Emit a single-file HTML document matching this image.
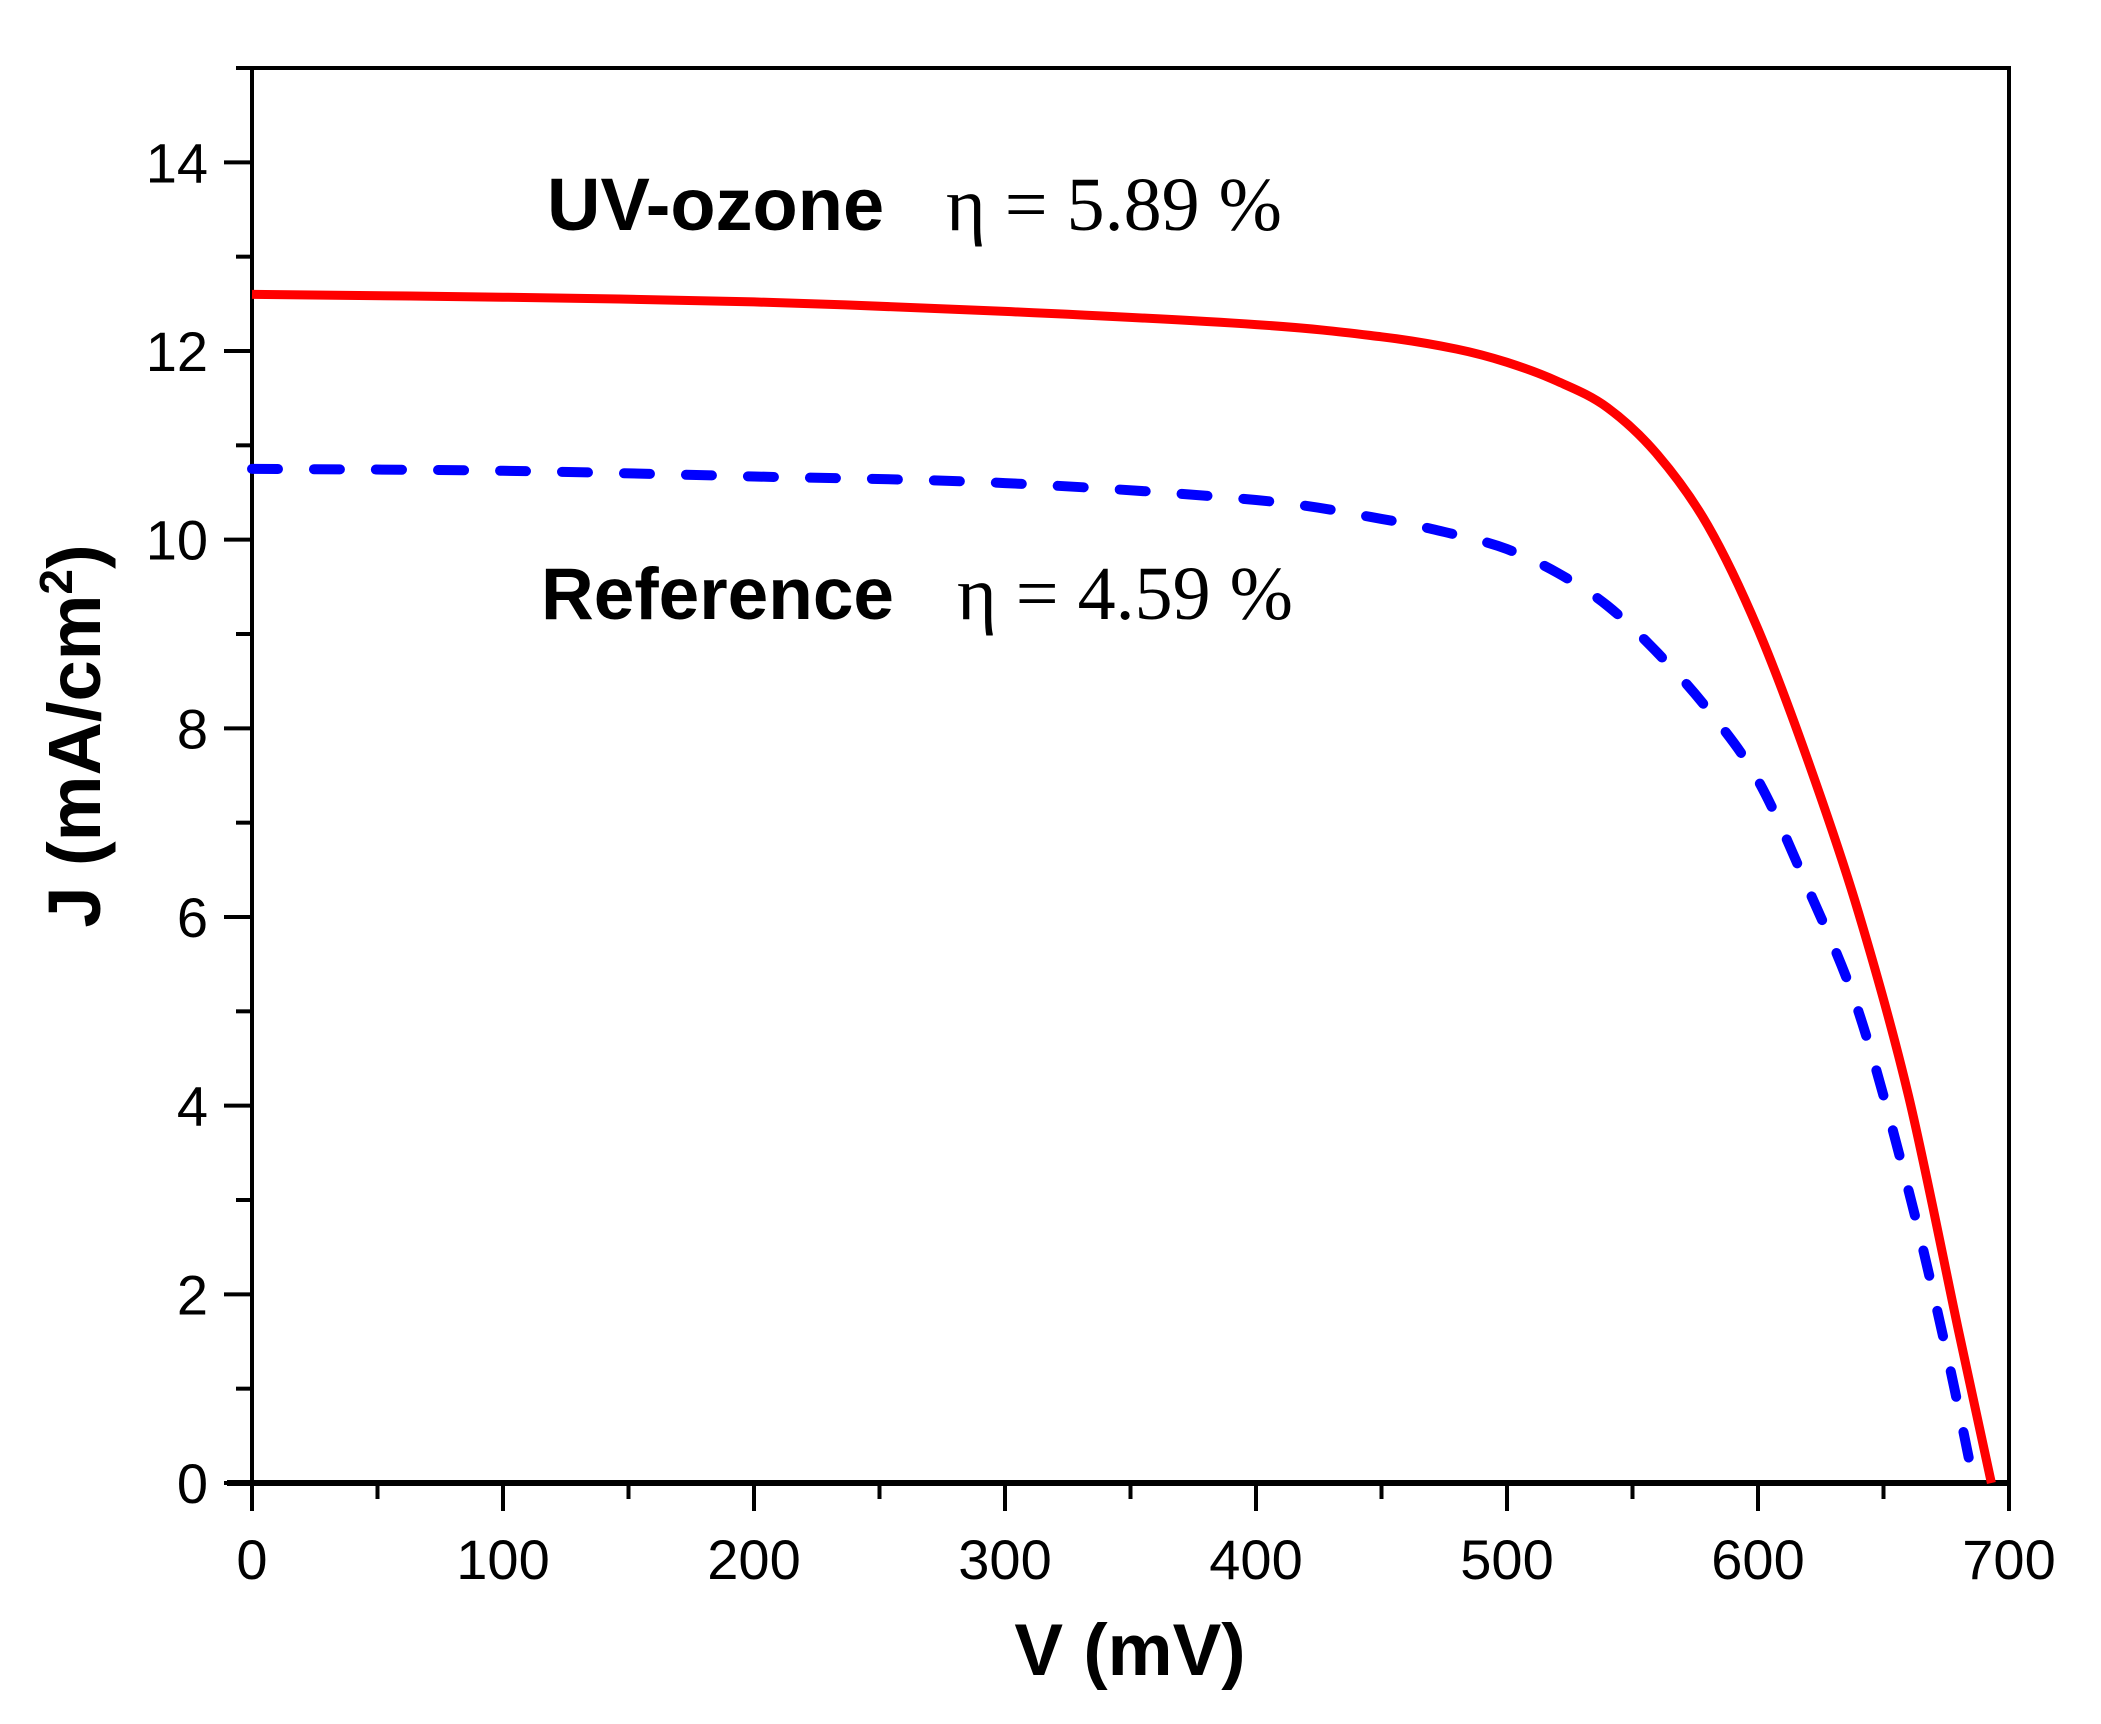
<!DOCTYPE html>
<html><head><meta charset="utf-8"><style>
html,body{margin:0;padding:0;background:#fff;}
svg{display:block;}
text{font-family:"Liberation Sans",sans-serif;}
</style></head><body>
<svg id="chart" width="2101" height="1724" xmlns="http://www.w3.org/2000/svg">
<g id="axes"></g>
<g id="series"></g>
<text x="547" y="230" font-size="74" font-weight="bold">UV-ozone</text>
<text x="946" y="230" font-size="76" style="font-family:'Liberation Serif',serif">η = 5.89 %</text>
<text x="541" y="619" font-size="73" font-weight="bold">Reference</text>
<text x="957" y="619" font-size="76" style="font-family:'Liberation Serif',serif">η = 4.59 %</text>
<text x="1130" y="1675" font-size="73" font-weight="bold" text-anchor="middle">V (mV)</text>
<text transform="translate(100,736) rotate(-90)" font-size="74" font-weight="bold" text-anchor="middle">J (mA/cm<tspan font-size="46" dy="-28">2</tspan><tspan dy="28">)</tspan></text>
</svg>
<script>
const xTicks=[0,100,200,300,400,500,600,700];
const yTicks=[0,2,4,6,8,10,12,14];
const uvV=[0,100,200,300,400,450,480,500,520,540,560,580,600,620,640,660,680,693];
const uvJ=[12.6,12.57,12.52,12.42,12.28,12.15,12.02,11.88,11.68,11.4,10.9,10.15,9.05,7.65,6.05,4.1,1.6,0];
const refV=[0,100,200,300,400,450,480,500,520,540,560,580,600,620,640,660,675,686];
const refJ=[10.75,10.73,10.67,10.6,10.42,10.22,10.05,9.9,9.65,9.3,8.8,8.2,7.45,6.3,5.0,3.1,1.4,0];
const NS="http://www.w3.org/2000/svg";
const X0=252,X1=2009,Y0=1483,YT=68;
const sx=v=>X0+(v-0)/700*(X1-X0);
const sy=j=>Y0-(j/15)*(Y0-YT);
const axes=document.getElementById('axes');
function mk(tag,attrs,parent){const e=document.createElementNS(NS,tag);for(const k in attrs)e.setAttribute(k,attrs[k]);parent.appendChild(e);return e;}
const frame=mk('rect',{x:X0,y:YT,width:X1-X0,height:Y0-YT,fill:'none',stroke:'#000','stroke-width':4},axes);


const xa=mk('line',{x1:X0-25,y1:Y0,x2:X1,y2:Y0,stroke:'#000','stroke-width':6},axes);


for(let v=0;v<=700;v+=50){
  const major=v%100===0;
  const t=mk('line',{x1:sx(v),y1:Y0,x2:sx(v),y2:Y0+(major?28:16),stroke:'#000','stroke-width':4},axes);
  
  
}
xTicks.forEach(v=>{
  const t=mk('text',{x:sx(v),y:1579,'font-size':56,'text-anchor':'middle'},axes);
  t.textContent=v;
  
  
});
for(let j=0;j<=15;j+=1){
  const major=j%2===0;
  const t=mk('line',{x1:X0,y1:sy(j),x2:X0-(major?28:16),y2:sy(j),stroke:'#000','stroke-width':4},axes);
  
  
}
yTicks.forEach(j=>{
  const t=mk('text',{x:208,y:sy(j)+20,'font-size':56,'text-anchor':'end'},axes);
  t.textContent=j;
  
  
});
const ser=document.getElementById('series');
function path(V,J){
  const P=V.map((v,i)=>[sx(v),sy(J[i])]);
  let d='M'+P[0][0].toFixed(1)+','+P[0][1].toFixed(1);
  for(let i=0;i<P.length-1;i++){
    const p0=P[Math.max(0,i-1)],p1=P[i],p2=P[i+1],p3=P[Math.min(P.length-1,i+2)];
    const c1=[p1[0]+(p2[0]-p0[0])/6,p1[1]+(p2[1]-p0[1])/6];
    const c2=[p2[0]-(p3[0]-p1[0])/6,p2[1]-(p3[1]-p1[1])/6];
    d+=' C'+c1.map(n=>n.toFixed(1)).join(',')+' '+c2.map(n=>n.toFixed(1)).join(',')+' '+p2.map(n=>n.toFixed(1)).join(',');
  }
  return d;
}
const r=mk('path',{d:path(uvV,uvJ),fill:'none',stroke:'#ff0000','stroke-width':9,'stroke-linejoin':'round'},ser);


const b=mk('path',{d:path(refV,refJ),fill:'none',stroke:'#0000ff','stroke-width':10,'stroke-dasharray':'26 36','stroke-linecap':'round','stroke-linejoin':'round'},ser);


</script>
</body></html>
